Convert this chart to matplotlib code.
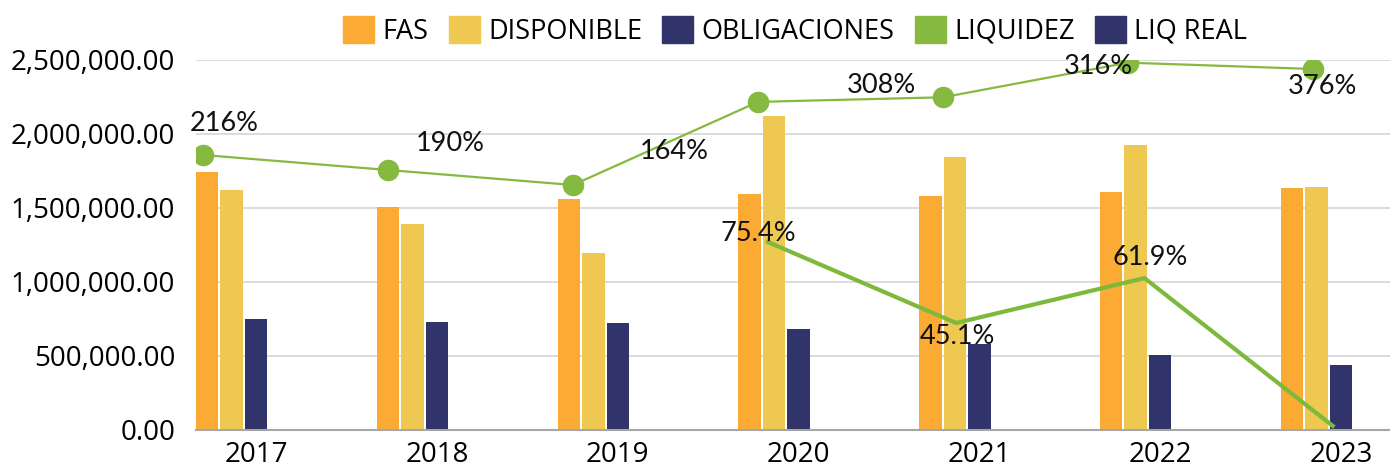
import matplotlib
matplotlib.use("Agg")
import matplotlib.pyplot as plt
from matplotlib.patches import Patch
from matplotlib.ticker import FuncFormatter

years = ['2017', '2018', '2019', '2020', '2021', '2022', '2023']
fas = [1743000, 1507000, 1561000, 1595000, 1581000, 1608000, 1635000]
disponible = [1622000, 1392000, 1196000, 2122000, 1845000, 1926000, 1642000]
obligaciones = [750000, 730000, 723000, 682000, 581000, 507000, 439000]
liquidez = [216, 190, 164, 308, 316, 376, 365]
liquidez_labels = ['216%', '190%', '164%', '308%', '316%', '376%']
liq_real_years = [3, 4, 5, 6]
liq_real = [75.4, 45.1, 61.9, 6.6]
liq_real_labels = ['75.4%', '45.1%', '61.9%']

c_fas = '#FBAA33'
c_disp = '#EEC850'
c_obl = '#31346B'
c_green = '#86B93F'

plt.rcParams['font.family'] = ['Open Sans', 'DejaVu Sans']

fig = plt.figure(figsize=(13.9, 4.68), dpi=100)
rect = [196 / 1390, 38 / 468, 1194 / 1390, 370 / 468]
ax = fig.add_axes(rect)

x = list(range(len(years)))
w = 0.1245
step = 0.1355
ax.bar([i - 2 * step for i in x], fas, w, color=c_fas, zorder=2)
ax.bar([i - step for i in x], disponible, w, color=c_disp, zorder=2)
ax.bar(x, obligaciones, w, color=c_obl, zorder=2)

ax.set_xlim(-0.333, 6.271)
ax.set_ylim(0, 2500000)
ax.set_yticks([0, 500000, 1000000, 1500000, 2000000, 2500000])
ax.yaxis.set_major_formatter(FuncFormatter(lambda v, p: '{:,.2f}'.format(v)))
ax.set_xticks(x)
ax.set_xticklabels(years)
ax.tick_params(axis='y', length=0, pad=15, labelsize=20)
ax.tick_params(axis='x', length=0, pad=8, labelsize=20)
ax.grid(axis='y', color='#D9D9D9', linewidth=1.3, zorder=0)
ax.set_axisbelow(True)
for s in ['left', 'right', 'top']:
    ax.spines[s].set_visible(False)
ax.spines['bottom'].set_color('#A6A6A6')
ax.spines['bottom'].set_linewidth(1.5)

# LIQUIDEZ line (own scale)
ax_l = fig.add_axes(rect, facecolor='none')
ax_l.axis('off')
ax_l.set_xlim(-0.0378, 6.416)
ax_l.set_ylim(-260.6, 380.6)
ax_l.plot(x, liquidez, color=c_green, linewidth=1.6, marker='o', markersize=14.5)
liq_offsets = [(15, 23), (45, 19), (73, 24), (89, 12), (112, 22), (140, -17)]
for i, (lab, off) in enumerate(zip(liquidez_labels, liq_offsets)):
    ax_l.annotate(lab, (x[i], liquidez[i]), xytext=off, textcoords='offset points',
                  ha='center', va='center', fontsize=19.5, family=['Lato', 'DejaVu Sans'],
                  color='#111111')

# LIQ REAL line (own scale)
ax_r = fig.add_axes(rect, facecolor='none')
ax_r.axis('off')
ax_r.set_xlim(-0.0372, 6.304)
ax_r.set_ylim(5.07, 143.5)
ax_r.plot(liq_real_years, liq_real, color='#7DB93A', linewidth=3)
real_offsets = [(-7, 6), (1, -10), (4, 15)]
for i, (lab, off) in enumerate(zip(liq_real_labels, real_offsets)):
    ax_r.annotate(lab, (liq_real_years[i], liq_real[i]), xytext=off, textcoords='offset points',
                  ha='center', va='center', fontsize=19.5, family=['Lato', 'DejaVu Sans'],
                  color='#111111')

handles = [Patch(color=c_fas), Patch(color=c_disp), Patch(color=c_obl),
           Patch(color=c_green), Patch(color=c_obl)]
names = ['FAS', 'DISPONIBLE', 'OBLIGACIONES', 'LIQUIDEZ', 'LIQ REAL']
fig.legend(handles, names, loc='center', bbox_to_anchor=(0.572, 0.934), ncol=5,
           frameon=False, fontsize=19.5, handlelength=1.15, handleheight=1.15,
           handletextpad=0.3, columnspacing=0.75)

fig.savefig('out.png', dpi=100)
